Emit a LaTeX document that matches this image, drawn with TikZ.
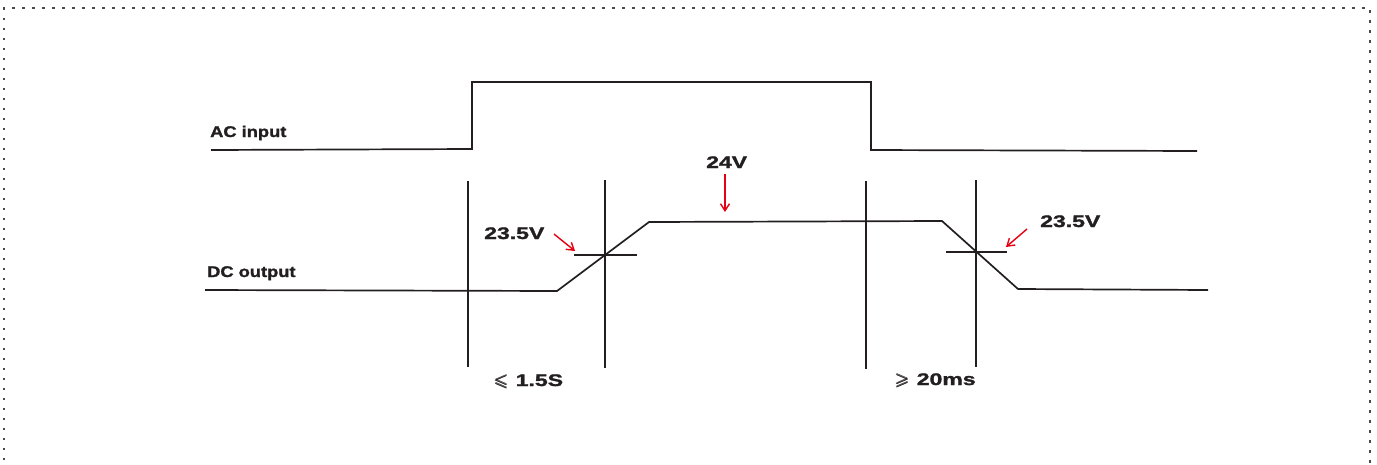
\documentclass[tikz,border=0pt]{standalone}
\usepackage{fontspec}
\usepackage{amsmath}
\usepackage{amssymb}
\usepackage{graphicx}
\setmainfont{Liberation Sans}
\newfontfamily\lblfont[FakeBold=1.3]{Liberation Sans Bold}
\usetikzlibrary{arrows.meta}
\definecolor{ink}{HTML}{231F20}
\definecolor{arr}{HTML}{E60012}
\definecolor{frm}{HTML}{4A4A4A}
\newcommand{\lblA}[1]{\scalebox{1.18}[1]{\fontsize{15.5}{18}\lblfont #1}}
\newcommand{\lblN}[1]{\scalebox{1.37}[1]{\fontsize{16.8}{20}\lblfont #1}}
\newcommand{\relsym}[1]{{\fontsize{17}{20}\selectfont\scalebox{1.1}[1]{\pmb{$#1$}}}}
\begin{document}
\begin{tikzpicture}[x=1pt,y=-1pt,
  wave/.style={draw=ink,line width=1.7pt,line join=miter},
  guide/.style={draw=ink,line width=1.6pt},
  redarrow/.style={draw=arr,line width=1.4pt,-{Straight Barb[length=7pt,width=9pt]}},
  txt/.style={inner sep=0pt,anchor=base west,text=ink},
  frame/.style={draw=frm,line width=1.5pt,dash pattern=on 2.5pt off 7.5pt}]
\useasboundingbox (0,0) rectangle (1377,464);
% dotted frame
\draw[frame] (4,470) -- (4,8) -- (1370,8) -- (1370,470);
% labels
\node[txt] (ac) at (210,137) {\lblA{AC input}};
\node[txt] (dc) at (207,277) {\lblA{DC output}};
\node[txt] (v24) at (706,168) {\lblN{24V}};
\node[txt] (vl) at (484,239) {\lblN{23.5V}};
\node[txt] (vr) at (1040,227) {\lblN{23.5V}};
\node[txt] (tl) at (494,386) {\relsym{\leqslant}\hspace{7pt}\lblN{1.5S}};
\node[txt] (tr) at (895,385) {\relsym{\geqslant}\hspace{7pt}\lblN{20ms}};
% AC waveform
\coordinate (a0) at (211,150);
\coordinate (a1) at (472,149);
\coordinate (a2) at (472,82);
\coordinate (a3) at (871,82);
\coordinate (a4) at (871,150);
\coordinate (a5) at (1197,151);
\draw[wave] (a0) -- (a1) -- (a2) -- (a3) -- (a4) -- (a5);
% DC waveform
\coordinate (d0) at (205,290);
\coordinate (d1) at (557,291);
\coordinate (d2) at (649,222);
\coordinate (d3) at (942,221);
\coordinate (d4) at (1018,289);
\coordinate (d5) at (1208,290);
\draw[wave] (d0) -- (d1) -- (d2) -- (d3) -- (d4) -- (d5);
% vertical guides
\draw[guide] (468,181) -- (468,367);
\draw[guide] (605,180) -- (605,368);
\draw[guide] (866,181) -- (866,369);
\draw[guide] (976,180) -- (976,367);
% threshold ticks
\coordinate (tkl1) at (574,255);
\coordinate (tkl2) at (637,255);
\coordinate (tkr1) at (946,252);
\coordinate (tkr2) at (1007,252);
\draw[guide] (tkl1) -- (tkl2);
\draw[guide] (tkr1) -- (tkr2);
% red arrows
\coordinate (r1s) at (554,234);
\coordinate (r1e) at (575,251);
\coordinate (r2s) at (1027,229);
\coordinate (r2e) at (1006,247);
\coordinate (r3s) at (725,174);
\coordinate (r3e) at (725,212);
\draw[redarrow] (r1s) -- (r1e);
\draw[redarrow] (r2s) -- (r2e);
\draw[redarrow] (r3s) -- (r3e);
\end{tikzpicture}
\end{document}
